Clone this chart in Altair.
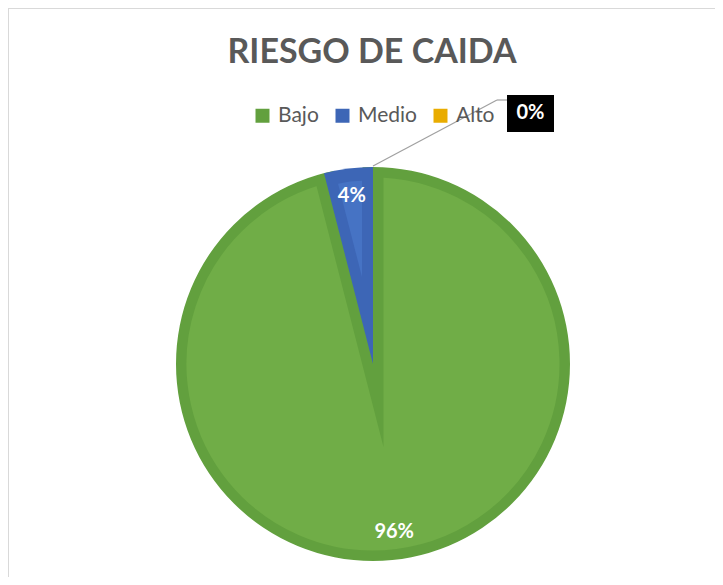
import altair as alt
import pandas as pd

# ---- data ----
categories = ["Bajo", "Medio", "Alto"]
values = [96, 4, 0]
order = [0, 1, 2]
title_text = ["RIESGO DE CAIDA"]

legend_colors = ["#62A03E", "#3D66B6", "#E9AC00"]
GREEN_LIGHT = "#70AD47"
GREEN_DARK = "#62A03E"
BLUE_DARK = "#3D66B6"
BLUE_LIGHT = "#4673C4"
TEXT_GREY = "#595959"
FONT = "Lato"

df = pd.DataFrame({"cat": categories, "val": values, "ord": order})
title_df = pd.DataFrame({"t": title_text})

W, H = 707, 569
CX, CY = 365, 356      # pie centre (view px)
R_OUT = 197            # outer radius incl. border
BAND = 10.5            # half border
INSET = 11             # blue bevel width

base = alt.Chart(df).transform_joinaggregate(
    total="sum(val)"
).transform_window(
    cum="sum(val)", sort=[alt.SortField("ord")]
).transform_calculate(
    start="2*PI*(datum.cum - datum.val)/datum.total",
    end="2*PI*datum.cum/datum.total",
).transform_calculate(
    mid="(datum.start + datum.end)/2",
    half="(datum.end - datum.start)/2",
    pct="format(datum.val/datum.total, '.0%')",
)

theta = alt.Theta("start:Q", scale=None, stack=False)
theta2 = alt.Theta2("end:Q")

# green slice with thick mitred border
green = base.transform_filter(alt.datum.cat == "Bajo").mark_arc(
    radius=R_OUT, fill=GREEN_LIGHT, stroke=GREEN_DARK,
    strokeWidth=2 * BAND, strokeJoin="miter", strokeMiterLimit=12,
).encode(x=alt.value(CX), y=alt.value(CY), theta=theta, theta2=theta2)

# white ring hiding the outer half of the border
ring = alt.Chart(title_df).mark_arc(
    innerRadius=R_OUT, outerRadius=R_OUT + 20, theta=0, theta2=6.2832,
    fill="white",
).encode(x=alt.value(CX), y=alt.value(CY))

# dark blue wedge (also carries the legend)
dark = base.transform_filter(alt.datum.cat != "Bajo").mark_arc(
    radius=R_OUT
).encode(
    x=alt.value(CX), y=alt.value(CY), theta=theta, theta2=theta2,
    color=alt.Color(
        "cat:N",
        scale=alt.Scale(domain=categories, range=legend_colors),
        legend=alt.Legend(
            orient="none", legendX=244, legendY=97, direction="horizontal",
            title=None, symbolType="square", symbolSize=196,
            symbolStrokeWidth=0, labelFontSize=21, labelFont=FONT,
            labelColor=TEXT_GREY, labelOffset=5, columnPadding=13, padding=0,
        ),
    ),
)

# lighter inset of the blue wedge (bevel look)
light = base.transform_filter(alt.datum.cat == "Medio").transform_calculate(
    off=f"{INSET}/sin(datum.half)",
).transform_calculate(
    ax=f"{CX} + datum.off*sin(datum.mid)",
    ay=f"{CY} - datum.off*cos(datum.mid)",
    rr=f"{R_OUT - 13} - datum.off",
).mark_arc(fill=BLUE_LIGHT).encode(
    x=alt.X("ax:Q", scale=None), y=alt.Y("ay:Q", scale=None),
    theta=theta, theta2=theta2, radius=alt.Radius("rr:Q", scale=None),
)

labels = base.transform_filter(alt.datum.cat != "Alto").mark_text(
    radius=169, font=FONT, fontSize=20, fontWeight="bold", color="white",
    align="center", baseline="middle",
).encode(
    x=alt.value(CX), y=alt.value(CY),
    theta=alt.Theta("mid:Q", scale=None, stack=False), text="pct:N",
)

# leader line + boxed label for the 0% slice
lead1 = alt.Chart(title_df).mark_rule(color="#A0A0A0", strokeWidth=1.2).encode(
    x=alt.value(365), y=alt.value(158), x2=alt.value(489), y2=alt.value(92))
lead2 = alt.Chart(title_df).mark_rule(color="#A0A0A0", strokeWidth=1.2).encode(
    x=alt.value(489), y=alt.value(92), x2=alt.value(499), y2=alt.value(92))
box = alt.Chart(title_df).mark_rect(color="black").encode(
    x=alt.value(499), x2=alt.value(546), y=alt.value(87), y2=alt.value(124))
zero_lbl = base.transform_filter(alt.datum.cat == "Alto").mark_text(
    font=FONT, fontSize=20, fontWeight="bold", color="white",
    align="center", baseline="middle",
).encode(x=alt.value(522.5), y=alt.value(105), text="pct:N")

title = alt.Chart(title_df).mark_text(
    font=FONT, fontSize=34, fontWeight="bold", color=TEXT_GREY,
    align="center", baseline="alphabetic",
).encode(x=alt.value(364), y=alt.value(55), text="t:N")

# chart frame (top / left edges visible)
frame_top = alt.Chart(title_df).mark_rule(color="#D9D9D9").encode(
    x=alt.value(0), x2=alt.value(W), y=alt.value(0.5), y2=alt.value(0.5))
frame_left = alt.Chart(title_df).mark_rule(color="#D9D9D9").encode(
    x=alt.value(0.5), x2=alt.value(0.5), y=alt.value(0), y2=alt.value(H))

chart = alt.layer(
    frame_top, frame_left, green, ring, dark, light, labels,
    lead1, lead2, box, zero_lbl, title,
).properties(
    width=W, height=H, padding=0,
    autosize=alt.AutoSizeParams(type="none"),
    background="white",
).configure_view(stroke=None)

chart.save("out.html", embed_options={"renderer": "svg", "actions": False})
